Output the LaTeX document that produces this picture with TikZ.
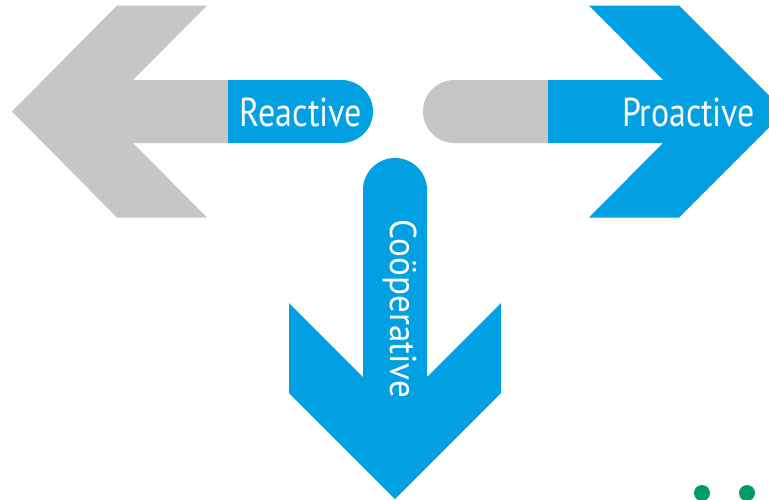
\documentclass[tikz,border=0pt]{standalone}
\usepackage{fontspec}
\usepackage{graphicx}
\setmainfont{PT Sans}
\definecolor{arrblue}{RGB}{0,160,226}
\definecolor{arrgrey}{RGB}{200,198,197}
\definecolor{dotgreen}{RGB}{0,158,99}
\tikzset{
  bluefill/.style={fill=arrblue, draw=none},
  greyfill/.style={fill=arrgrey, draw=none},
  lbl/.style={text=white, inner sep=0pt, anchor=center},
  gdot/.style={fill=dotgreen, draw=none}
}
\begin{document}
\begin{tikzpicture}[x=1pt,y=-1pt]
\useasboundingbox (0,0) rectangle (769,499);
\clip (0,0) rectangle (769,499);
\fill[white] (0,0) rectangle (769,499);
% left (reactive) arrow
\fill[greyfill] (12,111.5) -- (117,5.5) -- (207,5.5) -- (133,80) -- (228,80) -- (228,143) -- (133,143) -- (207,217.5) -- (117,217.5) -- cycle;
\fill[bluefill] (228,80) -- (341.5,80) arc[start angle=-90, end angle=90, radius=31.5] -- (228,143) -- cycle;
\node[lbl] (reactive) at (301,112.5) {\resizebox*{122pt}{29pt}{Reactive}};
% right (proactive) arrow
\fill[greyfill] (548,80) -- (454.5,80) arc[start angle=-90, end angle=-270, radius=31.5] -- (548,143) -- cycle;
\fill[bluefill] (548,80) -- (663,80) -- (589,5.5) -- (679,5.5) -- (785,111.5) -- (679,217.5) -- (589,217.5) -- (663,143) -- (548,143) -- cycle;
\node[lbl] (proactive) at (688.5,112.5) {\resizebox*{133pt}{29pt}{Proactive}};
% down (cooperative) arrow
\fill[bluefill] (363,377) -- (363,190) arc[start angle=180, end angle=360, radius=32] -- (427,377) -- (501,303) -- (501,393) -- (395,499) -- (289,393) -- (289,303) -- cycle;
\node[lbl, rotate=-90] (cooperative) at (400,309) {\resizebox*{178pt}{34pt}{Coöperative}};
% green dots
\fill[gdot] (702,493) circle[radius=8] coordinate (dotA);
\fill[gdot] (747,493) circle[radius=8] coordinate (dotB);
\end{tikzpicture}
\end{document}
